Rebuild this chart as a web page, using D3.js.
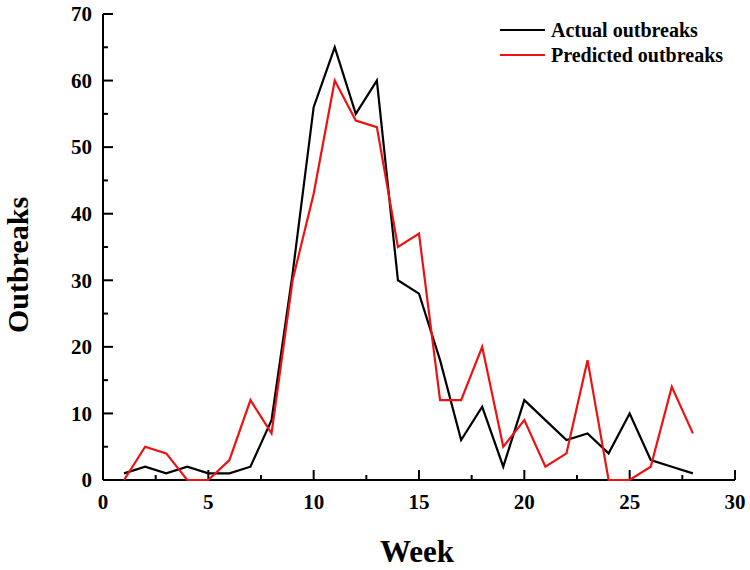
<!DOCTYPE html>
<html>
<head>
<meta charset="utf-8">
<script src="https://cdn.jsdelivr.net/npm/d3@7"></script>
<style>
  body { margin: 0; background: #fff; }
  svg { display: block; }
  text { font-family: "Liberation Serif", "Times New Roman", serif; font-weight: bold; fill: #000; }
</style>
</head>
<body>
<svg id="chart" width="750" height="570"></svg>
<script>
const weeks = d3.range(1, 29);
const actual =    [1, 2, 1, 2, 1, 1, 2, 9, 31, 56, 65, 55, 60, 30, 28, 18, 6, 11, 2, 12, 9, 6, 7, 4, 10, 3, 2, 1];
const predicted = [0, 5, 4, 0, 0, 3, 12, 7, 30, 43, 60, 54, 53, 35, 37, 12, 12, 20, 5, 9, 2, 4, 18, 0, 0, 2, 14, 7];
const xTicks = [0, 5, 10, 15, 20, 25, 30];
const yTicks = [0, 10, 20, 30, 40, 50, 60, 70];
const seriesNames = ["Actual outbreaks", "Predicted outbreaks"];
const seriesColors = ["#000000", "#ee1111"];

const svg = d3.select("#chart");
const x = d3.scaleLinear().domain([0, 30]).range([103, 735]);
const y = d3.scaleLinear().domain([0, 70]).range([480, 14]);

// axes with inward ticks
const xMinor = d3.range(0, 30.01, 2.5);
const yMinor = d3.range(0, 70.01, 5);

const gx = svg.append("g").attr("transform", `translate(0,${y(0)})`);
gx.append("line").attr("x1", x(0)).attr("x2", x(30)).attr("stroke", "#000").attr("stroke-width", 2);
gx.selectAll("line.t").data(xMinor).enter().append("line").attr("class", "t")
  .attr("x1", d => x(d)).attr("x2", d => x(d))
  .attr("y1", 0).attr("y2", d => (d % 5 === 0) ? -10 : -5)
  .attr("stroke", "#000").attr("stroke-width", 2);
gx.selectAll("text").data(xTicks).enter().append("text")
  .attr("x", d => x(d)).attr("y", 29).attr("text-anchor", "middle")
  .style("font-size", "21px").text(d => d);

const gy = svg.append("g").attr("transform", `translate(${x(0)},0)`);
gy.append("line").attr("y1", y(0)).attr("y2", y(70)).attr("stroke", "#000").attr("stroke-width", 2);
gy.selectAll("line.t").data(yMinor).enter().append("line").attr("class", "t")
  .attr("y1", d => y(d)).attr("y2", d => y(d))
  .attr("x1", 0).attr("x2", d => (d % 10 === 0) ? 10 : 5)
  .attr("stroke", "#000").attr("stroke-width", 2);
gy.selectAll("text").data(yTicks).enter().append("text")
  .attr("x", -11).attr("y", d => y(d)).attr("dy", "0.35em").attr("text-anchor", "end")
  .style("font-size", "21px").text(d => d);

// axis titles
svg.append("text").attr("x", 417).attr("y", 562).attr("text-anchor", "middle")
  .style("font-size", "31px").text("Week");
svg.append("text").attr("transform", "translate(28,265) rotate(-90)").attr("text-anchor", "middle")
  .style("font-size", "30px").text("Outbreaks");

// lines
const line = d3.line().x((d, i) => x(weeks[i])).y(d => y(d));
[actual, predicted].forEach((vals, k) => {
  svg.append("path").datum(vals).attr("d", line)
    .attr("fill", "none").attr("stroke", seriesColors[k]).attr("stroke-width", 2.2)
    .attr("stroke-linejoin", "miter");
});

// legend
const lg = svg.append("g");
seriesNames.forEach((name, k) => {
  const ly = 30 + k * 25;
  lg.append("line").attr("x1", 500).attr("x2", 545).attr("y1", ly).attr("y2", ly)
    .attr("stroke", seriesColors[k]).attr("stroke-width", 2);
  lg.append("text").attr("x", 551).attr("y", ly).attr("dy", "0.35em")
    .style("font-size", "20px").text(name);
});
</script>
</body>
</html>
